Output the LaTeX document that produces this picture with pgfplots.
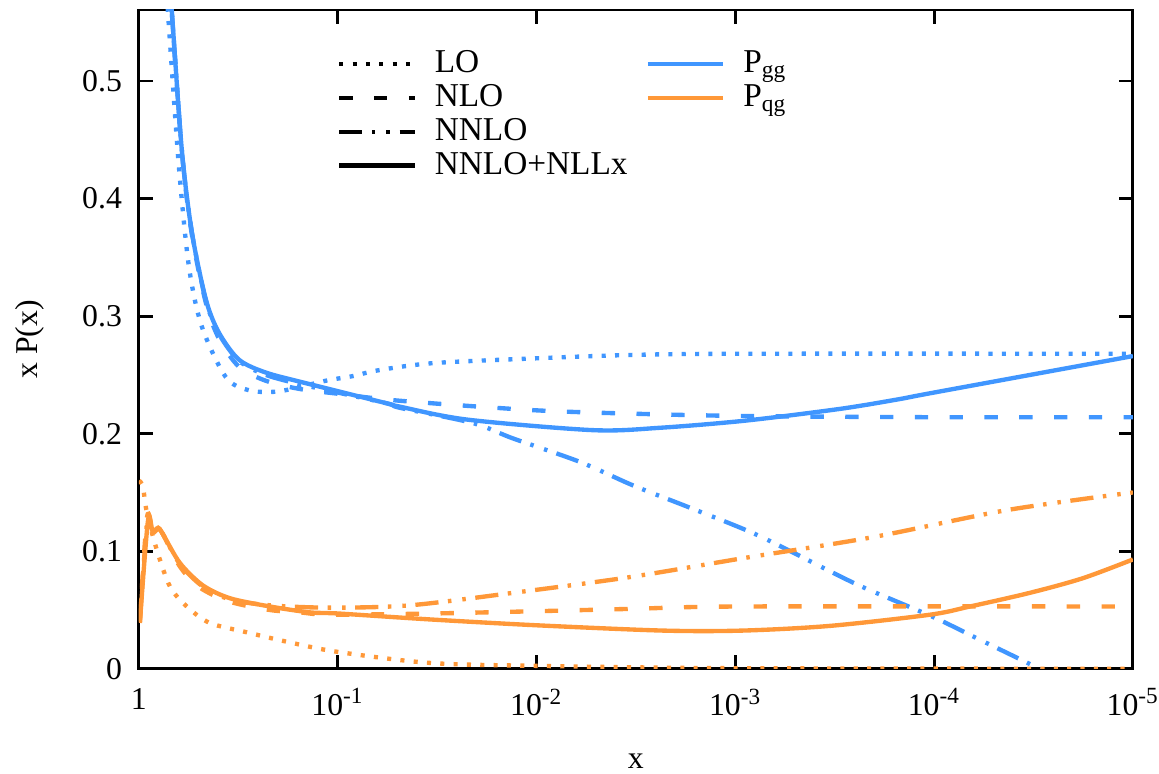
\documentclass[border=0pt,11pt]{standalone}
\usepackage{fontspec}
\setmainfont{Liberation Serif}
\usepackage{pgfplots}
\pgfplotsset{compat=1.18}
\definecolor{cblue}{RGB}{64,150,255}
\definecolor{corange}{RGB}{255,152,56}
\tikzset{
  sLO/.style={dash pattern=on 1.4pt off 3.2pt},
  sNLO/.style={dash pattern=on 4.6pt off 7.4pt},
  sNNLO/.style={dash pattern=on 8pt off 3.3pt on 1.2pt off 3.8pt on 1.2pt off 3.3pt},
  sRES/.style={solid},
}
\begin{document}
\begin{tikzpicture}
\begin{axis}[
  width=342.8pt, height=227.2pt, scale only axis,
  xmode=log, x dir=reverse, xmin=1e-5, xmax=1,
  ymin=0, ymax=0.5604,
  xtick={1e-5,1e-4,1e-3,1e-2,1e-1,1},
  xticklabels={10\textsuperscript{-5},10\textsuperscript{-4},10\textsuperscript{-3},10\textsuperscript{-2},10\textsuperscript{-1},1},
  xminorticks=false, yminorticks=false,
  ytick={0,0.1,0.2,0.3,0.4,0.5},
  yticklabel style={/pgf/number format/fixed,/pgf/number format/precision=1,/pgf/number format/assume math mode=true, xshift=-2pt},
  xticklabel style={yshift=-3pt},
  major tick length=4.8pt,
  tick style={black, line width=1pt},
  axis line style={line width=1pt},
  xlabel={x}, ylabel={x P(x)},
  xlabel style={at={(axis description cs:0.5,-0.141)}, anchor=center},
  ylabel style={at={(axis description cs:-0.1097,0.5)}, anchor=center},
  every axis plot/.append style={line width=1.5pt},
  legend columns=2,
  legend cell align=left,
  legend image code/.code={\draw (0pt,0pt) -- (26pt,0pt);},
  legend style={draw=none, fill=none, at={(axis description cs:0.19,0.953)}, anchor=north west,
    font=\fontsize{11.5}{13}\selectfont, nodes={inner sep=1.2pt},
    /tikz/every odd column/.append style={column sep=5pt},
    /tikz/every even column/.append style={column sep=5pt}},
]
\addlegendimage{black, line width=1.5pt, sLO}\addlegendentry{LO}
\addlegendimage{cblue, line width=1.5pt}\addlegendentry{P\textsubscript{gg}}
\addlegendimage{black, line width=1.5pt, sNLO}\addlegendentry{NLO}
\addlegendimage{corange, line width=1.5pt}\addlegendentry{P\textsubscript{qg}}
\addlegendimage{black, line width=1.5pt, sNNLO}\addlegendentry{NNLO}
\addlegendimage{empty legend}\addlegendentry{}
\addlegendimage{black, line width=1.5pt, sRES}\addlegendentry{NNLO+NLLx}
\addlegendimage{empty legend}\addlegendentry{}

% ---- P_gg ----
\addplot[cblue, sLO, smooth, forget plot] table {
0.730 0.585
0.706 0.546
0.629 0.427
0.560 0.342
0.482 0.291
0.365 0.248
0.280 0.237
0.198 0.236
0.115 0.245
0.0839 0.249
0.0621 0.254
0.0332 0.260
0.0104 0.264
0.00327 0.267
8.75e-4 0.268
1e-5 0.268
};
\addplot[cblue, sNLO, smooth, forget plot] table {
0.700 0.585
0.608 0.440
0.541 0.369
0.460 0.311
0.396 0.281
0.314 0.257
0.230 0.245
0.155 0.238
0.100 0.234
0.0487 0.228
0.0104 0.220
0.00327 0.217
8.75e-4 0.215
1e-4 0.214
1e-5 0.214
};
\addplot[cblue, sNNLO, smooth, forget plot] table {
0.700 0.585
0.608 0.441
0.541 0.371
0.460 0.313
0.396 0.285
0.314 0.262
0.230 0.250
0.145 0.241
0.0572 0.226
0.0487 0.222
0.0209 0.209
0.01315 0.196
0.00605 0.176
0.00327 0.156
0.00169 0.137
7.8e-4 0.114
3.34e-4 0.083
2.25e-4 0.069
1.01e-4 0.044
6.1e-5 0.026
2.95e-5 0.0
1e-5 -0.040
};
\addplot[cblue, sRES, smooth, forget plot] table {
0.700 0.585
0.682 0.558
0.608 0.441
0.541 0.371
0.460 0.314
0.396 0.286
0.314 0.263
0.230 0.252
0.145 0.243
0.0572 0.226
0.0487 0.223
0.0224 0.212
0.0052 0.203
0.0024 0.205
9e-4 0.211
3e-4 0.221
1.54e-4 0.229
1e-4 0.235
1e-5 0.266
};
% ---- P_qg ----
\addplot[corange, sLO, smooth, forget plot] table {
0.998 0.160
0.955 0.155
0.912 0.133
0.812 0.101
0.698 0.070
0.574 0.053
0.440 0.039
0.286 0.031
0.180 0.023
0.101 0.0145
0.0344 0.005
0.00995 0.0025
0.001 0.0005
1e-5 0.0
};
\addplot[corange, sNLO, smooth, forget plot] table {
0.989 0.040
0.910 0.129
0.850 0.117
0.800 0.120
0.760 0.115
0.622 0.087
0.493 0.069
0.348 0.057
0.219 0.050
0.155 0.048
0.109 0.046
0.0344 0.047
0.00995 0.049
0.00327 0.051
9.2e-4 0.053
1e-5 0.053
};
\addplot[corange, sNNLO, smooth, forget plot] table {
0.989 0.040
0.905 0.128
0.850 0.117
0.800 0.120
0.760 0.115
0.622 0.089
0.477 0.070
0.348 0.059
0.219 0.054
0.109 0.052
0.0433 0.054
0.0126 0.065
0.00339 0.078
9.2e-4 0.094
2.03e-4 0.112
4.3e-5 0.135
1e-5 0.150
};
\addplot[corange, sRES, smooth, forget plot] table {
0.989 0.039
0.900 0.126
0.850 0.116
0.800 0.119
0.760 0.115
0.622 0.090
0.477 0.071
0.348 0.060
0.219 0.053
0.138 0.048
0.0986 0.047
0.0344 0.042
0.00995 0.037
0.00231 0.0325
9.2e-4 0.0325
3.34e-4 0.0365
1.05e-4 0.046
6.6e-5 0.053
3.3e-5 0.0646
1.79e-5 0.077
1e-5 0.093
};
\end{axis}
\pgfresetboundingbox
\path (-47.9pt,-36.2pt) rectangle (351.8pt,230.65pt);
\end{tikzpicture}
\end{document}
